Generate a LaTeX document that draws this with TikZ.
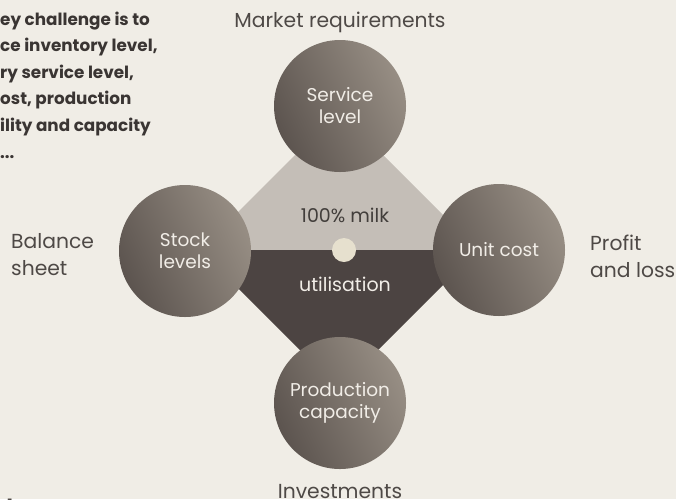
\documentclass[tikz,border=0pt]{standalone}
\usepackage{fontspec}
\setmainfont{Poppins}
\definecolor{paper}{HTML}{F0EDE6}
\definecolor{upper}{HTML}{C4BEB7}
\definecolor{lower}{HTML}{4C4442}
\definecolor{hubfill}{HTML}{E6E0CE}
\definecolor{balldark}{HTML}{5C544F}
\definecolor{balllight}{HTML}{978E84}
\definecolor{balltext}{HTML}{F1EDE7}
\definecolor{labeltext}{HTML}{4E4946}
\definecolor{notetext}{HTML}{3A3533}

\begin{document}
\begin{tikzpicture}[x=1pt, y=-1pt,
    ball/.style={circle, minimum size=132pt, inner sep=0pt, left color=balldark, right color=balllight, shading angle=115, text=balltext, align=center, font=\fontsize{18.5}{22}\selectfont},
    side/.style={text=labeltext, font=\fontsize{20.3}{26.5}\selectfont, inner sep=0pt},
    mid/.style={font=\fontsize{19}{22}\selectfont, inner sep=0pt, anchor=base}]
    \useasboundingbox[fill=paper] (0,0) rectangle (676,499);
    \fill[upper] (200,250) -- (339,111) -- (478,250) -- cycle;
    \fill[lower] (200,250) -- (478,250) -- (339,389) -- cycle;
    \node[ball] (service) at (340,106) {Service\\level};
    \node[ball] (stock) at (185,251) {Stock\\levels};
    \node[ball] (cost) at (499,250) {Unit cost};
    \node[ball] (capacity) at (340,403) {Production\\capacity};
    \node[circle, fill=hubfill, minimum size=24pt, inner sep=0pt] (hub) at (344,250) {};
    \node[mid, text=labeltext!85!black] (milk) at (345,222) {100\% milk};
    \node[mid, text=balltext] (util) at (345,291) {utilisation};
    \node[side, anchor=base] (market) at (340,27) {Market requirements};
    \node[side, anchor=base] (invest) at (340,498) {Investments};
    \node[side, anchor=base west, align=left] (balance) at (11,275) {Balance\\sheet};
    \node[side, anchor=base west, align=left] (profit) at (590,277) {Profit\\and loss};
    \node[anchor=base west, align=left, inner sep=0pt, text=notetext, font=\fontsize{16.8}{26.6}\selectfont\bfseries] (note) at (0,158)
        {ey challenge is to\\ce inventory level,\\ry service level,\\ost, production\\ility and capacity\\...};
    \node[anchor=base west, inner sep=0pt, text=labeltext, font=\fontsize{20}{20}\selectfont] (pageno) at (7,513) {1};
\end{tikzpicture}
\end{document}
